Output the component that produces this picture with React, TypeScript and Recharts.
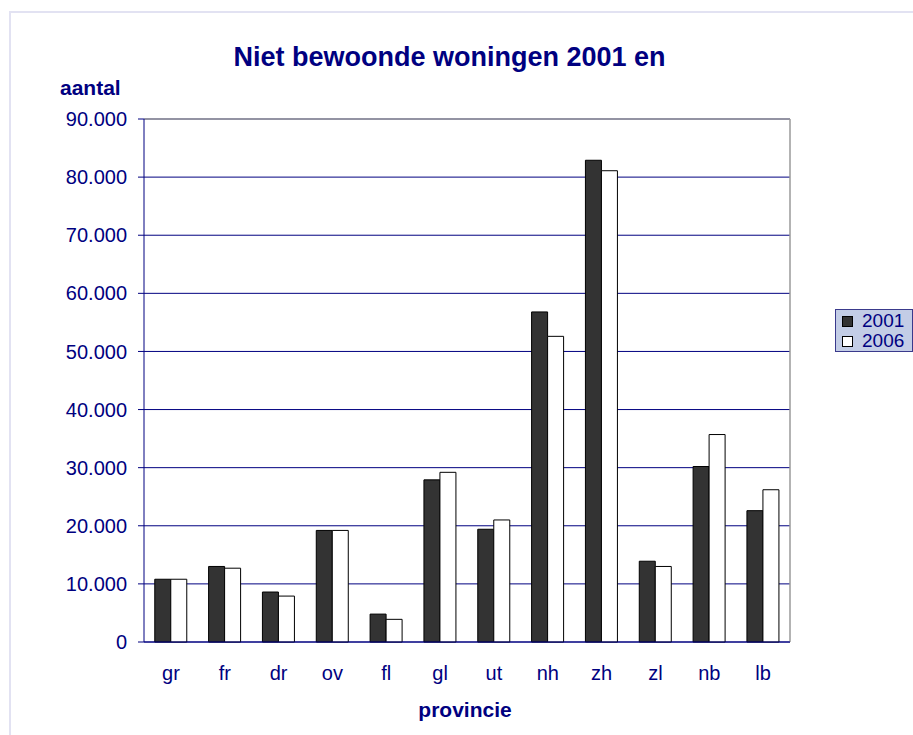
import React from "react";
import {
  BarChart,
  Bar,
  XAxis,
  YAxis,
  CartesianGrid,
  ReferenceLine,
} from "recharts";

const provinces = ["gr", "fr", "dr", "ov", "fl", "gl", "ut", "nh", "zh", "zl", "nb", "lb"];
const values2001 = [10800, 13000, 8600, 19200, 4800, 27900, 19400, 56800, 82900, 13900, 30200, 22600];
const values2006 = [10800, 12700, 7900, 19200, 3900, 29200, 21000, 52600, 81100, 13000, 35700, 26200];
const yTicks = [0, 10000, 20000, 30000, 40000, 50000, 60000, 70000, 80000, 90000];
const separatorTicks = [0, 1, 2, 3, 4, 5, 6, 7, 8, 9, 10, 11, 12];
const seriesNames = ["2001", "2006"];

const NAVY = "#000080";
const FONT = "'Liberation Sans', Arial, sans-serif";

const data = provinces.map((p, i) => ({
  provincie: p,
  y2001: values2001[i],
  y2006: values2006[i],
}));

// 10000 -> "10.000"
const fmt = (v: number) => (v === 0 ? "0" : `${v / 1000}.000`);

export default function App() {
  return (
    <div style={{ position: "absolute", left: 0, top: 0, width: 913, height: 735, overflow: "hidden", background: "#fff" }}>
      <div
        style={{
          position: "absolute",
          left: 9,
          top: 11,
          right: -10,
          bottom: -10,
          borderLeft: "2px solid #e2e2f2",
          borderTop: "2px solid #e2e2f2",
        }}
      />
      <BarChart
        width={913}
        height={735}
        data={data}
        margin={{ top: 119, right: 123, left: 64, bottom: 13 }}
        barCategoryGap="20%"
        barGap={0}
        style={{ position: "absolute", left: 0, top: 0 }}
      >
        <CartesianGrid vertical={false} stroke={NAVY} strokeWidth={1} />
        <XAxis
          xAxisId="sep"
          type="number"
          dataKey="sep"
          domain={[0, 12]}
          ticks={separatorTicks}
          tick={false}
          axisLine={false}
          tickLine={{ stroke: NAVY }}
          tickSize={6}
          height={0}
          allowDataOverflow
        />
        <XAxis
          dataKey="provincie"
          height={80}
          tickLine={false}
          tickSize={0}
          tickMargin={24}
          axisLine={{ stroke: NAVY }}
          tick={{ fill: NAVY, fontSize: 20, fontFamily: FONT }}
          interval={0}
        />
        <YAxis
          width={80}
          domain={[0, 90000]}
          ticks={yTicks}
          tickFormatter={fmt}
          axisLine={{ stroke: NAVY }}
          tickLine={{ stroke: NAVY }}
          tickSize={6}
          tickMargin={11}
          tick={{ fill: NAVY, fontSize: 20, fontFamily: FONT }}
          interval={0}
        />
        <ReferenceLine y={90000} stroke="#9a9a9a" strokeWidth={1.5} />
        <ReferenceLine x={12} xAxisId="sep" stroke="#9a9a9a" strokeWidth={1.5} />
        <Bar dataKey="y2001" name={seriesNames[0]} fill="#333333" stroke="#000" strokeWidth={1} isAnimationActive={false} />
        <Bar dataKey="y2006" name={seriesNames[1]} fill="#ffffff" stroke="#000" strokeWidth={1} isAnimationActive={false} />
      </BarChart>
      <svg width={913} height={735} style={{ position: "absolute", left: 0, top: 0, pointerEvents: "none" }}>
        <text x={449.5} y={66} textAnchor="middle" fill={NAVY} fontFamily={FONT} fontWeight="bold" fontSize={27}>
          Niet bewoonde woningen 2001 en
        </text>
        <text x={60} y={95} fill={NAVY} fontFamily={FONT} fontWeight="bold" fontSize={21}>
          aantal
        </text>
        <text x={465} y={717} textAnchor="middle" fill={NAVY} fontFamily={FONT} fontWeight="bold" fontSize={21}>
          provincie
        </text>
      </svg>
      <div
        style={{
          position: "absolute",
          left: 835,
          top: 309,
          width: 78,
          height: 43,
          boxSizing: "border-box",
          border: "1px solid #3a3a8c",
          background: "#c3cde6",
          fontFamily: FONT,
          fontSize: 19,
          color: NAVY,
          padding: "1px 0 0 6px",
        }}
      >
        {seriesNames.map((name, i) => (
          <div key={name} style={{ display: "flex", alignItems: "center", height: 20, lineHeight: "20px" }}>
            <span
              style={{
                width: 11,
                height: 11,
                boxSizing: "border-box",
                border: "1px solid #000",
                background: i === 0 ? "#333333" : "#ffffff",
                marginRight: 9,
                display: "inline-block",
                flexShrink: 0,
              }}
            />
            <span>{name}</span>
          </div>
        ))}
      </div>
    </div>
  );
}
